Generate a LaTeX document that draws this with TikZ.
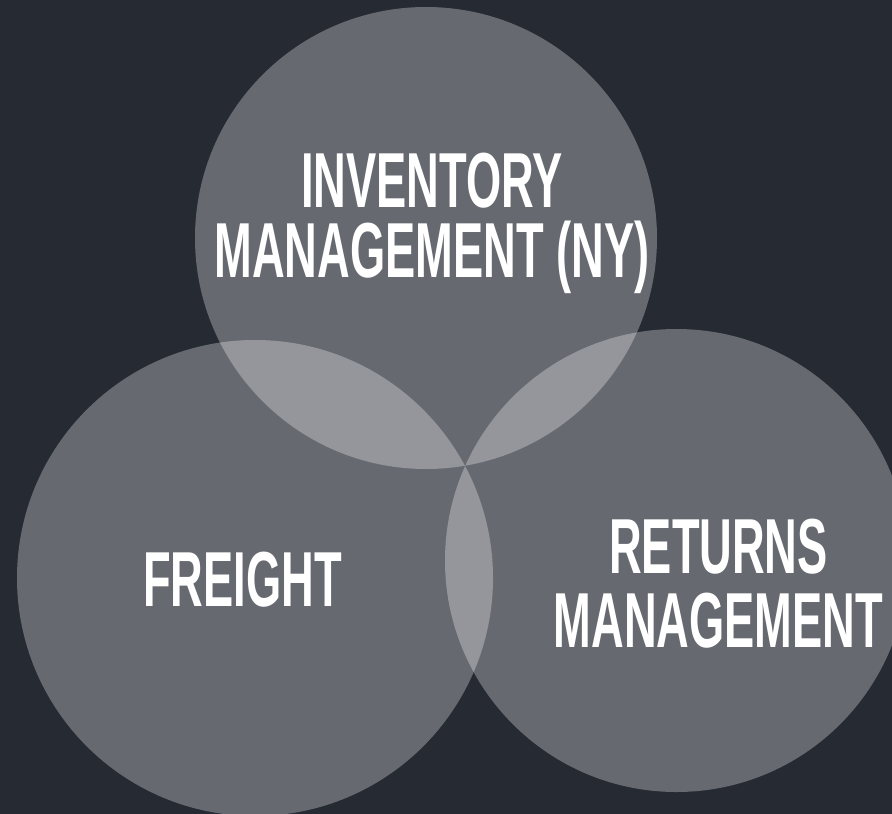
\documentclass[tikz,border=0pt]{standalone}
\usepackage{fontspec}
\setmainfont[FakeStretch=0.58]{Liberation Sans}
\definecolor{bg}{HTML}{252A33}
\begin{document}
\begin{tikzpicture}[x=1pt,y=-1pt,
  venn/.style={circle, fill=white, fill opacity=0.3, inner sep=0pt, draw=none},
  lbl/.style={text=white, font=\fontsize{78}{70}\selectfont\bfseries, align=center, anchor=base, inner sep=0pt}]
\useasboundingbox (0,0) rectangle (892,814);
\fill[bg] (0,0) rectangle (892,814);
\node[venn, minimum size=462pt] (inv) at (426,238) {};
\node[venn, minimum size=476pt] (fre) at (255,578) {};
\node[venn, minimum size=463pt] (ret) at (676.5,560.5) {};
\node[lbl] (tinv) at (432,277) {INVENTORY\\MANAGEMENT (NY)};
\node[lbl] (tfre) at (242.5,606) {FREIGHT};
\node[lbl, font=\fontsize{78}{74}\selectfont\bfseries] (tret) at (718.5,647) {RETURNS\\MANAGEMENT};
\end{tikzpicture}
\end{document}
